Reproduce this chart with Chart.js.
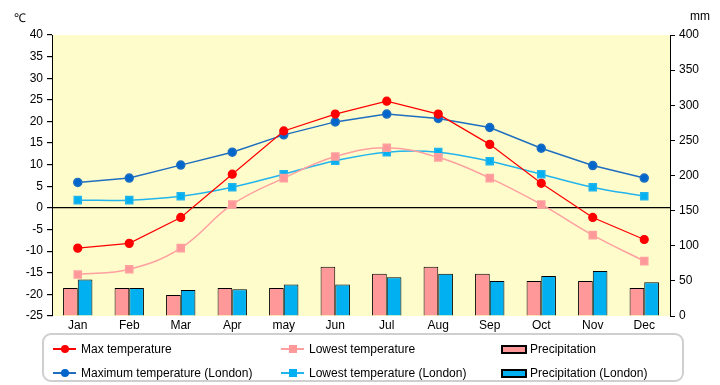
<!DOCTYPE html>
<html>
<head>
<meta charset="utf-8">
<script src="https://cdn.jsdelivr.net/npm/chart.js@4"></script>
<style>
body{margin:0;background:#fff;font-family:"Liberation Sans",Arial,sans-serif}
#wrap{position:relative;width:720px;height:385px}
#wrap canvas{position:absolute;left:0;top:0}
.unit{position:absolute;top:9px;font-size:12px;color:#000}
#legend{position:absolute;left:42px;top:333px;width:642px;height:49px;border:2px solid #cfcfcf;border-radius:9px;box-sizing:border-box}
.item{position:absolute;height:16px;display:flex;align-items:center;font-size:12px;color:#000;white-space:nowrap}
.mk{position:relative;width:23px;height:16px;margin-right:5px}
.mk .ln{position:absolute;left:0;right:0;top:7px;height:2px}
.mk .dot{position:absolute;left:8px;top:4px;width:8px;height:8px}
.box{width:22px;height:5px;border:2px solid #000;margin-right:3px}
</style>
</head>
<body>
<div id="wrap">
<canvas id="chart" width="720" height="385"></canvas>
<div class="unit" style="left:14px">℃</div>
<div class="unit" style="left:690px">mm</div>
<div id="legend"></div>
</div>
<script>

// DATA

const months = ['Jan','Feb','Mar','Apr','may','Jun','Jul','Aug','Sep','Oct','Nov','Dec']

const maxTemp = [-9.3,-8.2,-2.2,7.8,17.8,21.7,24.7,21.7,14.7,5.7,-2.2,-7.3]
const lowTemp = [-15.4,-14.2,-9.3,0.8,6.9,11.9,13.9,11.7,6.9,0.8,-6.3,-12.3]
const maxLondon = [5.9,6.9,9.9,12.9,16.9,19.9,21.7,20.7,18.6,13.8,9.8,6.9]
const lowLondon = [1.8,1.8,2.7,4.8,7.8,10.9,12.9,12.9,10.8,7.8,4.8,2.7]

const rain = [40,40,30,40,40,70,60,70,60,50,50,40]
const rainLondon = [52,40,37,38,45,45,55,60,50,57,64,48]

const tempMin = -25, tempMax = 40, tempStep = 5
const rainMin = 0, rainMax = 400, rainStep = 50


// CHART

const plotBg = {
id:'plotBg',
beforeDraw(chart){
const a = chart.chartArea
const c = chart.ctx
c.save()
c.fillStyle = '#FFFCCB'
c.fillRect(a.left,a.top,a.right-a.left,a.bottom-a.top)
c.restore()
}
}

const font = {family:'"Liberation Sans", Arial, sans-serif',size:12}

const ctx = document.getElementById('chart')

const chart = new Chart(ctx,{
type:'bar',
data:{
labels:months,
datasets:[
{type:'line',label:'Max temperature',data:maxTemp,yAxisID:'y',order:1,
borderColor:'#FF0000',backgroundColor:'#FF0000',borderWidth:1.2,
pointStyle:'circle',pointRadius:4,tension:0,mk:'circle'},
{type:'line',label:'Lowest temperature',data:lowTemp,yAxisID:'y',order:1,
borderColor:'#FFA0A0',backgroundColor:'#FF9999',borderWidth:1.5,
pointStyle:'rect',pointRadius:5,tension:0.4,mk:'rect'},
{type:'bar',label:'Precipitation',data:rain,yAxisID:'y2',order:2,
backgroundColor:'#FF9999',borderColor:'#000',borderWidth:1,
barPercentage:1,categoryPercentage:0.57},
{type:'line',label:'Maximum temperature (London)',data:maxLondon,yAxisID:'y',order:1,
borderColor:'#1F6FC0',backgroundColor:'#0066CC',borderWidth:1.5,
pointStyle:'circle',pointRadius:4,tension:0,mk:'circle'},
{type:'line',label:'Lowest temperature (London)',data:lowLondon,yAxisID:'y',order:1,
borderColor:'#22B4EC',backgroundColor:'#00B0F0',borderWidth:1.5,
pointStyle:'rect',pointRadius:5,tension:0.4,mk:'rect'},
{type:'bar',label:'Precipitation (London)',data:rainLondon,yAxisID:'y2',order:2,
backgroundColor:'#00B0F0',borderColor:'#000',borderWidth:1,
barPercentage:1,categoryPercentage:0.57}
]
},
options:{
responsive:false,
animation:false,
layout:{padding:{top:35,left:0,right:0,bottom:0}},
plugins:{legend:{display:false},tooltip:{enabled:false}},
scales:{
x:{
grid:{display:false},
border:{display:false},
ticks:{color:'#000',font:font,padding:-6,maxRotation:0},
afterFit(s){s.height = 69}
},
y:{
position:'left',
min:tempMin,max:tempMax,
ticks:{stepSize:tempStep,color:'#000',font:font,padding:4},
grid:{
color:c=>c.tick && c.tick.value===0 ? '#000' : 'rgba(0,0,0,0)',
lineWidth:1.2,
tickColor:'#000',
tickLength:5
},
border:{display:true,color:'#000',width:1},
afterFit(s){s.width = 52}
},
y2:{
position:'right',
min:rainMin,max:rainMax,
ticks:{stepSize:rainStep,color:'#000',font:font,padding:4},
grid:{drawOnChartArea:false,tickColor:'#000',tickLength:5},
border:{display:true,color:'#000',width:1},
afterFit(s){s.width = 50}
}
}
},
plugins:[plotBg]
})


// LEGEND

const legend = document.getElementById('legend')
const colX = [9,237,457]
const rowY = [6,30]

chart.data.datasets.forEach((ds,i)=>{

const item = document.createElement('div')
item.className = 'item'
item.style.left = colX[i%3]+'px'
item.style.top = rowY[Math.floor(i/3)]+'px'

let icon
if(ds.type==='bar'){
icon = document.createElement('div')
icon.className = 'box'
icon.style.background = ds.backgroundColor
}else{
icon = document.createElement('div')
icon.className = 'mk'
const ln = document.createElement('div')
ln.className = 'ln'
ln.style.background = ds.borderColor
const dot = document.createElement('div')
dot.className = 'dot'
dot.style.background = ds.backgroundColor
if(ds.mk==='circle') dot.style.borderRadius = '50%'
icon.appendChild(ln)
icon.appendChild(dot)
}

const txt = document.createElement('span')
txt.textContent = ds.label

item.appendChild(icon)
item.appendChild(txt)
legend.appendChild(item)

})

</script>
</body>
</html>
